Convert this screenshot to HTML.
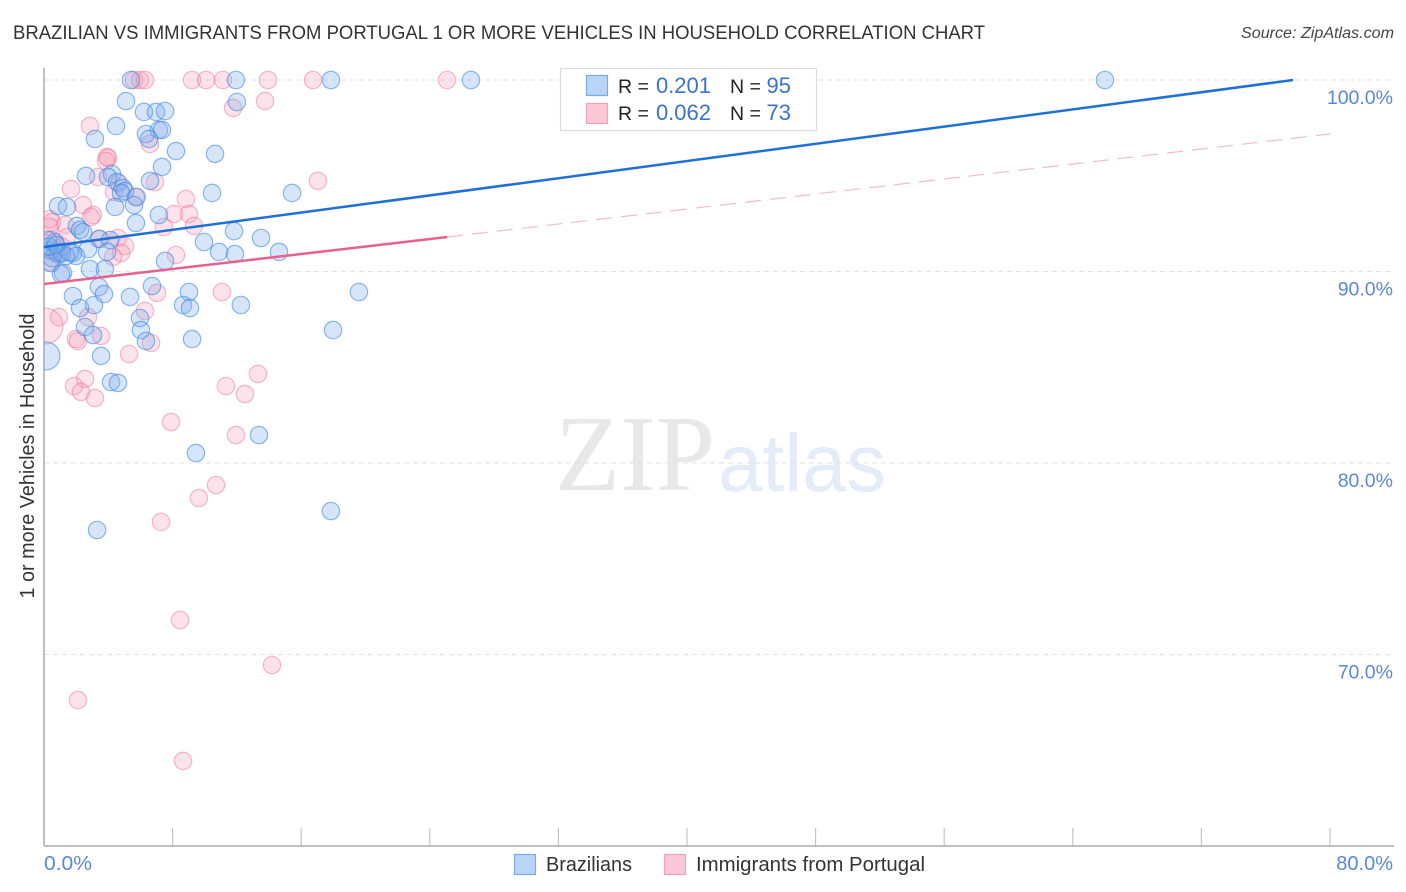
<!DOCTYPE html>
<html lang="en">
<head>
<meta charset="utf-8">
<title>Brazilian vs Immigrants from Portugal chart</title>
<style>
html,body{margin:0;padding:0;background:#fff;width:1406px;height:892px;overflow:hidden}
svg{display:block}
text{font-family:"Liberation Sans",sans-serif}
</style>
</head>
<body>
<svg id="chart" xmlns="http://www.w3.org/2000/svg" width="1406" height="892" viewBox="0 0 1406 892">
  <defs><clipPath id="plot-clip"><rect x="44" y="60" width="1350" height="786"/></clipPath></defs>
  <rect x="0" y="0" width="1406" height="892" fill="#ffffff"/>
  <text x="13" y="39" font-size="19.5" fill="#333" textLength="972" lengthAdjust="spacingAndGlyphs">BRAZILIAN VS IMMIGRANTS FROM PORTUGAL 1 OR MORE VEHICLES IN HOUSEHOLD CORRELATION CHART</text>
  <text x="1241" y="38" font-size="15.5" font-style="italic" fill="#444" textLength="153" lengthAdjust="spacingAndGlyphs">Source: ZipAtlas.com</text>
  <g>
    <text x="555" y="490" style="font-family:'Liberation Serif',serif" font-size="108" fill="#e8e8e8" textLength="160" lengthAdjust="spacingAndGlyphs">ZIP</text>
    <text x="718" y="491" font-size="82" fill="#e3ecf8" textLength="168" lengthAdjust="spacingAndGlyphs">atlas</text>
  </g>
  <g id="grid"></g>
  <g id="y-labels"></g>
  <g id="x-ticks"></g>
  <line x1="44" y1="68" x2="44" y2="846" stroke="#aaaaaa" stroke-width="1.5"/>
  <line x1="44" y1="846" x2="1394" y2="846" stroke="#aaaaaa" stroke-width="1.5"/>
  <g id="marks" clip-path="url(#plot-clip)"></g>
  <g id="trends"></g>
  <text transform="translate(34,456) rotate(-90)" font-size="20" fill="#333" text-anchor="middle" textLength="285" lengthAdjust="spacingAndGlyphs">1 or more Vehicles in Household</text>
  <g>
    <rect x="560.5" y="68.5" width="256" height="62" fill="#ffffff" stroke="#dddddd" stroke-width="1.2"/>
    <rect x="586.5" y="75.5" width="21" height="20" fill="#b8d4f8" stroke="#7aa9e4" stroke-width="1.2"/>
    <rect x="586.5" y="103.5" width="21" height="20" fill="#fcc8d8" stroke="#f0a0b8" stroke-width="1.2"/>
    <text x="618" y="93" font-size="19.5" fill="#222">R =</text>
    <text x="711" y="93" font-size="22" fill="#3a72cc" text-anchor="end">0.201</text>
    <text x="730" y="93" font-size="19.5" fill="#222">N =</text>
    <text x="791" y="93" font-size="22" fill="#3a72cc" text-anchor="end">95</text>
    <text x="618" y="120" font-size="19.5" fill="#222">R =</text>
    <text x="711" y="120" font-size="22" fill="#3a72cc" text-anchor="end">0.062</text>
    <text x="730" y="120" font-size="19.5" fill="#222">N =</text>
    <text x="791" y="120" font-size="22" fill="#3a72cc" text-anchor="end">73</text>
  </g>
  <text x="44" y="870" font-size="20" fill="#5a88d8" textLength="48" lengthAdjust="spacingAndGlyphs">0.0%</text>
  <text x="1393" y="870" font-size="20" fill="#5a88d8" text-anchor="end">80.0%</text>
  <g>
    <g>
      <rect x="514.5" y="854.5" width="21" height="20" fill="#b8d4f8" stroke="#7aa9e4" stroke-width="1.2"/>
      <text x="546" y="871" font-size="20" fill="#333" textLength="86" lengthAdjust="spacingAndGlyphs">Brazilians</text>
    </g>
    <g>
      <rect x="664.5" y="854.5" width="21" height="20" fill="#fcc8d8" stroke="#f0a0b8" stroke-width="1.2"/>
      <text x="696" y="871" font-size="20" fill="#333" textLength="229" lengthAdjust="spacingAndGlyphs">Immigrants from Portugal</text>
    </g>
  </g>
</svg>
<script>
const yTicks = [100, 90, 80, 70];
const yTickLabels = ["100.0%", "90.0%", "80.0%", "70.0%"];
const xTicks = [0, 8, 16, 24, 32, 40, 48, 56, 64, 72, 80];

const brazilianX = [5.41,11.94,17.85,26.56,66.0,5.10,6.22,6.97,7.53,12.0,4.48,3.17,6.34,7.15,7.34,6.53,8.21,10.64,7.34,2.61,4.23,3.98,4.54,4.91,5.04,4.79,6.59,10.45,15.43,0.87,1.43,4.42,5.60,5.72,7.15,5.72,2.05,2.24,2.43,11.82,9.95,13.50,10.89,11.88,14.62,3.42,4.11,3.92,2.74,1.80,1.99,7.53,2.86,3.79,0.68,0.68,1.18,1.06,0.44,0.37,0.25,0.87,1.37,3.42,3.73,1.80,6.72,5.35,9.02,8.65,9.08,12.25,3.11,2.24,17.98,2.55,3.05,5.97,6.03,6.34,9.21,3.55,4.17,4.60,13.37,9.45,3.30,17.85,19.59,0.50,1.10,0.30,1.60,0.75];
const brazilianY = [100,100,100,100,100,98.90,98.33,98.33,98.38,98.85,97.60,96.92,97.18,97.39,97.39,96.92,96.29,96.14,95.46,94.99,95.09,94.93,94.67,94.36,94.20,94.10,94.73,94.10,94.10,93.42,93.37,93.37,93.47,93.89,92.95,92.53,92.38,92.17,92.06,92.11,91.54,91.75,91.02,90.91,91.02,91.70,91.64,91.02,91.17,90.97,90.81,90.55,90.13,90.13,91.54,91.02,89.92,89.87,90.44,91.12,91.64,90.91,90.81,89.19,88.82,88.72,89.24,88.67,88.93,88.25,88.09,88.25,88.25,88.09,86.94,87.10,86.68,87.57,86.94,86.37,86.47,85.59,84.23,84.18,81.46,80.52,76.50,77.49,88.93,90.70,90.95,91.30,91.00,91.40];
const brazilianHeavyX = [0.12];
const brazilianHeavyY = [85.59];

const portugalX = [5.60,5.97,6.28,9.21,10.08,11.13,13.93,16.73,25.07,13.75,11.76,2.86,3.92,3.98,3.86,3.36,1.68,2.43,3.05,2.92,0.37,0.50,1.31,0.37,1.43,0.50,4.60,5.04,3.48,4.79,4.29,4.35,4.67,5.78,6.90,8.83,8.09,9.02,9.33,7.46,17.04,8.21,6.59,7.03,11.07,6.28,2.74,0.93,3.55,1.99,2.11,6.66,5.29,13.31,11.32,12.50,2.55,1.87,2.30,3.17,7.90,11.94,10.70,9.64,7.28,8.46,14.18,2.11,8.65,1.10,0.90,0.30];
const portugalY = [100,100,100,100,100,100,100,100,100,98.90,98.54,97.60,95.98,95.93,95.77,94.93,94.31,93.47,92.95,92.85,92.74,92.58,92.43,92.32,91.80,91.64,91.75,91.33,91.70,90.97,90.76,94.15,94.62,93.89,94.67,93.79,93.00,93.00,92.38,92.32,94.73,90.86,96.66,88.88,88.93,87.94,87.62,87.62,86.63,86.47,86.37,86.27,85.69,84.65,84.02,83.60,84.39,84.02,83.71,83.39,82.14,81.46,78.85,78.17,76.92,71.80,69.45,67.62,64.44,91.30,91.00,90.50];
const portugalHeavyX = [0.06];
const portugalHeavyY = [87.15];

const brazilianTrendX = [0, 77.7];
const brazilianTrendY = [91.28, 100];
const portugalTrendX = [0, 25.07];
const portugalTrendY = [89.35, 91.80];
const portugalTrendDashX = [25.07, 80];
const portugalTrendDashY = [91.80, 97.18];

const NS = "http://www.w3.org/2000/svg";
function sx(v) { return 44 + v * (1330 - 44) / 80; }
function sy(v) { return 80 + (100 - v) * (654.5 - 80) / 30; }
function make(tag, parent, attrs) {
  const el = document.createElementNS(NS, tag);
  for (const k in attrs) el.setAttribute(k, attrs[k]);
  document.getElementById(parent).appendChild(el);
  return el;
}

yTicks.forEach(function (t, i) {
  const grid = make("line", "grid", { x1: 44, x2: 1394, y1: sy(t), y2: sy(t), stroke: "#e2e2e2", "stroke-width": 1, "stroke-dasharray": "5 4" });
  
  
  const label = make("text", "y-labels", { x: 1393, y: sy(t) + 24, "font-size": 19.5, fill: "#5a88d8", "text-anchor": "end" });
  
  
  label.textContent = yTickLabels[i];
});

xTicks.forEach(function (t) {
  if (t === 0) return;
  const tick = make("line", "x-ticks", { x1: sx(t), x2: sx(t), y1: 828, y2: 846, stroke: "#c4c4c4", "stroke-width": 1.2 });
  
  
});

function drawPoints(xs, ys, r, fill, stroke, name) {
  xs.forEach(function (x, i) {
    const c = make("circle", "marks", { cx: sx(x), cy: sy(ys[i]), r: r, fill: fill, stroke: stroke, "stroke-width": 1.2 });
    
    
  });
}
const blueFill = "rgba(130,175,235,0.32)", blueStroke = "rgba(60,135,225,0.58)";
const pinkFill = "rgba(245,160,185,0.30)", pinkStroke = "rgba(235,120,155,0.50)";
drawPoints(portugalX, portugalY, 8.7, pinkFill, pinkStroke, "portugal-point");
drawPoints(portugalHeavyX, portugalHeavyY, 18, pinkFill, pinkStroke, "portugal-point-large");
drawPoints(brazilianX, brazilianY, 8.7, blueFill, blueStroke, "brazilian-point");
drawPoints(brazilianHeavyX, brazilianHeavyY, 14, blueFill, blueStroke, "brazilian-point-large");

function drawTrend(xs, ys, stroke, width, dash, name) {
  const l = make("line", "trends", { x1: sx(xs[0]), y1: sy(ys[0]), x2: sx(xs[1]), y2: sy(ys[1]), stroke: stroke, "stroke-width": width });
  if (dash) l.setAttribute("stroke-dasharray", dash);
  
  
}
drawTrend(portugalTrendDashX, portugalTrendDashY, "#f0bccd", 1.2, "16 9", "portugal-trend-projection");
drawTrend(portugalTrendX, portugalTrendY, "#e8608f", 2.5, null, "portugal-trend-line");
drawTrend(brazilianTrendX, brazilianTrendY, "#1f6fd8", 2.5, null, "brazilian-trend-line");
</script>
</body>
</html>
